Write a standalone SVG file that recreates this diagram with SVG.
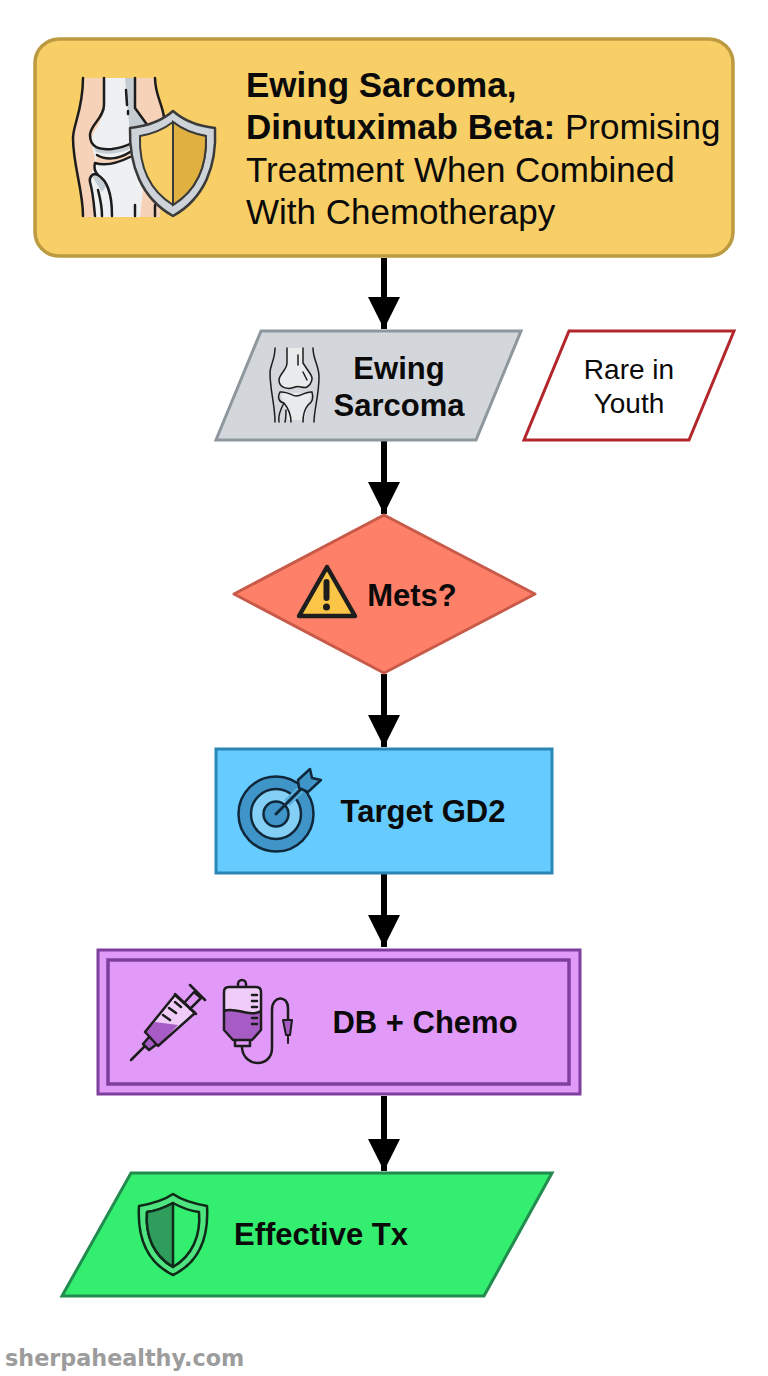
<svg xmlns="http://www.w3.org/2000/svg" width="768" height="1376" viewBox="0 0 768 1376">
<style>
text{font-family:"Liberation Sans",Arial,sans-serif;fill:#0a0a0a}
.b{font-weight:700}
.ln{fill:none;stroke:#1c1c1c;stroke-linecap:round;stroke-linejoin:round}
.conn{stroke:#000;stroke-width:6;fill:none;marker-end:url(#ah)}
</style>
<defs>
<marker id="ah" markerUnits="userSpaceOnUse" markerWidth="34" markerHeight="34" refX="32" refY="16" orient="auto"><path d="M0,0L32,16L0,32Z" fill="#000"/></marker>
</defs>
<rect width="768" height="1376" fill="#fff"/>
<g id="connectors">
<path class="conn" d="M384,258V329"/>
<path class="conn" d="M384,441V514"/>
<path class="conn" d="M384,674V747"/>
<path class="conn" d="M384,874V947"/>
<path class="conn" d="M384,1096V1171"/>
</g>
<g id="title">
<rect x="35" y="39" width="698" height="217" rx="24" fill="#F7CF66" stroke="#BC9A3F" stroke-width="3.5"/>
<path d="M83,78H155C155,95 163,105 165,125L160,217H83C83,190 73,165 73,138C73,125 83,110 83,78Z" fill="#F5D2B8"/>
<path d="M104,78H135V108L150,128L140,217H96L90,177L96,163L92,145C88,133 104,125 104,105Z" fill="#EEF0F2"/>
<path d="M125,78H135V108L148,126L130,135L128,112Z" fill="#C5CCD2"/>
<path d="M93,145C105,150 120,150 132,143L128,150C112,156 100,153 96,152Z" fill="#C5CCD2"/>
<path d="M97,155C105,160 118,160 130,152L130,157C118,165 105,162 96,163Z" fill="#F5D2B8"/>
<path d="M92,176L98,175L106,186L102,192Z" fill="#C5CCD2"/>
<path class="ln" stroke-width="2.500" d="M83,78C83,110 73,125 73,138C73,165 83,190 83,216M104,78V105C104,118 90,125 90,135C90,148 100,150 112,149C120,148 126,146 132,143M135,78V108L148,126M155,78C155,95 163,105 164,118M126,90L127,105M128,111V114"/>
<path class="ln" stroke-width="2.500" d="M97,155C105,160 118,160 130,152M95,163C105,166 118,163 130,157M95,163C93,170 96,173 98,175C92,172 89,178 90,182C93,192 94,205 95,216M98,175C106,180 112,190 112,216M98,190C100,198 102,205 102,216M135,205V216M155,205V216"/>
<path d="M173,111C183,120 198,126 215,128C217,165 205,198 173,216C141,198 129,165 130,128C148,126 163,120 173,111Z" fill="#CDD3D8" stroke="#3a3a3a" stroke-width="2.500" stroke-linejoin="round"/>
<path d="M173,122C182,129 194,134 206,136C207,165 197,190 173,205C149,190 139,165 140,136C152,134 164,129 173,122Z" fill="#F7CF66" stroke="#3a3a3a" stroke-width="2"/>
<path d="M173,122C182,129 194,134 206,136C207,165 197,190 173,205Z" fill="#E0B040" stroke="#3a3a3a" stroke-width="2"/>
<text x="246" y="97" font-size="35" class="b">Ewing Sarcoma,</text>
<text x="246" y="139" font-size="35"><tspan class="b">Dinutuximab Beta:</tspan> Promising</text>
<text x="246" y="182" font-size="35">Treatment When Combined</text>
<text x="246" y="224" font-size="35">With Chemotherapy</text>
</g>
<g id="ewing">
<path d="M261,331H521L476,440H216Z" fill="#D3D7DC" stroke="#8E979E" stroke-width="3"/>
<path d="M287,348V363L279,380C280,388 288,390 297,386C302,388 306,389 307,387C312,384 313,378 311,377L303,363V348Z" fill="#E8EAEC"/>
<path d="M281,394C290,392 300,393 311,394L304,420H288Z" fill="#E8EAEC"/>
<path class="ln" stroke-width="1.500" d="M275,348C275,360 270,365 270,373C270,390 275,405 275,422M313,348C313,360 319,365 319,377C319,395 314,410 314,422M287,348V363C287,370 279,374 279,380C279,388 288,390 295,387C299,385 303,389 307,387C312,384 313,378 311,375L303,363V348M298,355V365M303,372L307,380"/>
<path class="ln" stroke-width="1.500" d="M280,392C288,391 292,396 296,396C302,396 306,391 312,392M280,392C277,398 279,402 284,403C280,410 278,416 279,422M312,392C314,398 312,403 308,405C304,410 303,416 303,422M284,403C288,408 291,415 291,422M286,410C286,414 286,418 285,422"/>
<text x="399" y="379" font-size="31" class="b" text-anchor="middle">Ewing</text>
<text x="399" y="416" font-size="31" class="b" text-anchor="middle">Sarcoma</text>
</g>
<g id="rare">
<path d="M569,331H734L689,440H524Z" fill="#fff" stroke="#B3262B" stroke-width="3"/>
<text x="629" y="379" font-size="28" text-anchor="middle">Rare in</text>
<text x="629" y="413" font-size="28" text-anchor="middle">Youth</text>
</g>
<g id="mets">
<path d="M384,515L535,594L384,673L234,594Z" fill="#FF8068" stroke="#C75A48" stroke-width="3" stroke-linejoin="round"/>
<path d="M327,567L355,616H299Z" fill="#FBC548" stroke="#1e1e1e" stroke-width="4.500" stroke-linejoin="round"/>
<path d="M326.500,582L326.500,598" stroke="#1e1e1e" stroke-width="6" stroke-linecap="round"/>
<circle cx="326.500" cy="607" r="3.500" fill="#1e1e1e"/>
<text x="412" y="606" font-size="31" class="b" text-anchor="middle">Mets?</text>
</g>
<g id="target">
<rect x="216" y="749" width="336" height="124" fill="#66CBFF" stroke="#2A86B5" stroke-width="3"/>
<circle cx="276" cy="814" r="37.500" fill="#3F95C8" stroke="#10283a" stroke-width="2.500"/>
<circle cx="276" cy="814" r="25" fill="#84CFF5" stroke="#10283a" stroke-width="2.500"/>
<circle cx="276" cy="814" r="12.500" fill="#3F95C8" stroke="#10283a" stroke-width="2.500"/>
<path d="M287,803L306,784" stroke="#5AAEDC" stroke-width="8"/>
<path d="M276,814L300,790" stroke="#10283a" stroke-width="3" stroke-linecap="round"/>
<path d="M298,780L310,769L312,778L321,780L308,792L299,788Z" fill="#3F95C8" stroke="#10283a" stroke-width="2.500" stroke-linejoin="round"/>
<text x="423" y="822" font-size="31" class="b" text-anchor="middle">Target GD2</text>
</g>
<g id="db">
<rect x="98" y="950" width="482" height="144" fill="#E29AF8" stroke="#7E3F9E" stroke-width="3"/>
<rect x="108" y="960" width="461" height="124" fill="none" stroke="#7E3F9E" stroke-width="3.500"/>
<path d="M131,1060L145,1046" class="ln" stroke-width="2.500"/>
<path d="M143,1044L149,1050L157,1044L150,1036Z" fill="#A65CC4" stroke="#1c1c1c" stroke-width="2.500" stroke-linejoin="round"/>
<path d="M145,1032L175,995L195,1013L158,1046Z" fill="#F0CCF9"/>
<path d="M145,1032L155,1022L178,1025L158,1046Z" fill="#A65CC4"/>
<path d="M145,1032L175,995L195,1013L158,1046Z" fill="none" stroke="#1c1c1c" stroke-width="2.500" stroke-linejoin="round"/>
<path class="ln" stroke-width="2.500" d="M175,994L196,1014M184,1003L194,992L201,998L190,1009M190,985L205,1000M163,1015L170,1020M169,1008L176,1013M175,1002L181,1007"/>
<rect x="224" y="987" width="37" height="46" rx="5" fill="#F0CCF9"/>
<path d="M224,1012C235,1006 250,1018 261,1012V1030L252,1040H233L224,1030Z" fill="#A65CC4"/>
<path class="ln" stroke-width="2.500" d="M229,987H256Q261,987 261,992V1030L252,1040H233L224,1030V992Q224,987 229,987ZM224,1011C235,1006 250,1018 261,1011M238,987V984A4,4 0 0 1 246,984V987M235,1040H250V1046H235ZM242,1046V1048C244,1068 272,1068 272,1048V1010C272,995 288,995 288,1008V1020M252,995H257M252,1001H257M252,1007H257M252,1018H257M252,1024H257"/>
<path d="M283,1020H292L290,1035H286Z" fill="#A65CC4" stroke="#1c1c1c" stroke-width="2" stroke-linejoin="round"/>
<path class="ln" stroke-width="2" d="M288,1035V1043"/>
<text x="425" y="1033" font-size="31" class="b" text-anchor="middle">DB + Chemo</text>
</g>
<g id="tx">
<path d="M131,1173H552L484,1296H62Z" fill="#33EE6F" stroke="#228B4E" stroke-width="3"/>
<path d="M173,1194C183,1201 196,1204 207,1206C209,1240 198,1263 173,1275C148,1263 137,1240 139,1206C150,1204 163,1201 173,1194Z" fill="#4EE47F" stroke="#0f2a18" stroke-width="2.500" stroke-linejoin="round"/>
<path d="M173,1203C182,1208 191,1211 199,1212C201,1236 192,1256 173,1267C154,1256 145,1236 147,1212C155,1211 164,1208 173,1203Z" fill="#33EE6F" stroke="#0f2a18" stroke-width="2.500" stroke-linejoin="round"/>
<path d="M173,1203C164,1208 155,1211 147,1212C145,1236 154,1256 173,1267Z" fill="#2F9E5C" stroke="#0f2a18" stroke-width="2.500" stroke-linejoin="round"/>
<text x="321" y="1245" font-size="31" class="b" text-anchor="middle">Effective Tx</text>
</g>
<text x="5" y="1366" style="font-family:'DejaVu Sans',sans-serif;fill:#9c9c9c" font-size="22.300" font-weight="700">sherpahealthy.com</text>
</svg>
